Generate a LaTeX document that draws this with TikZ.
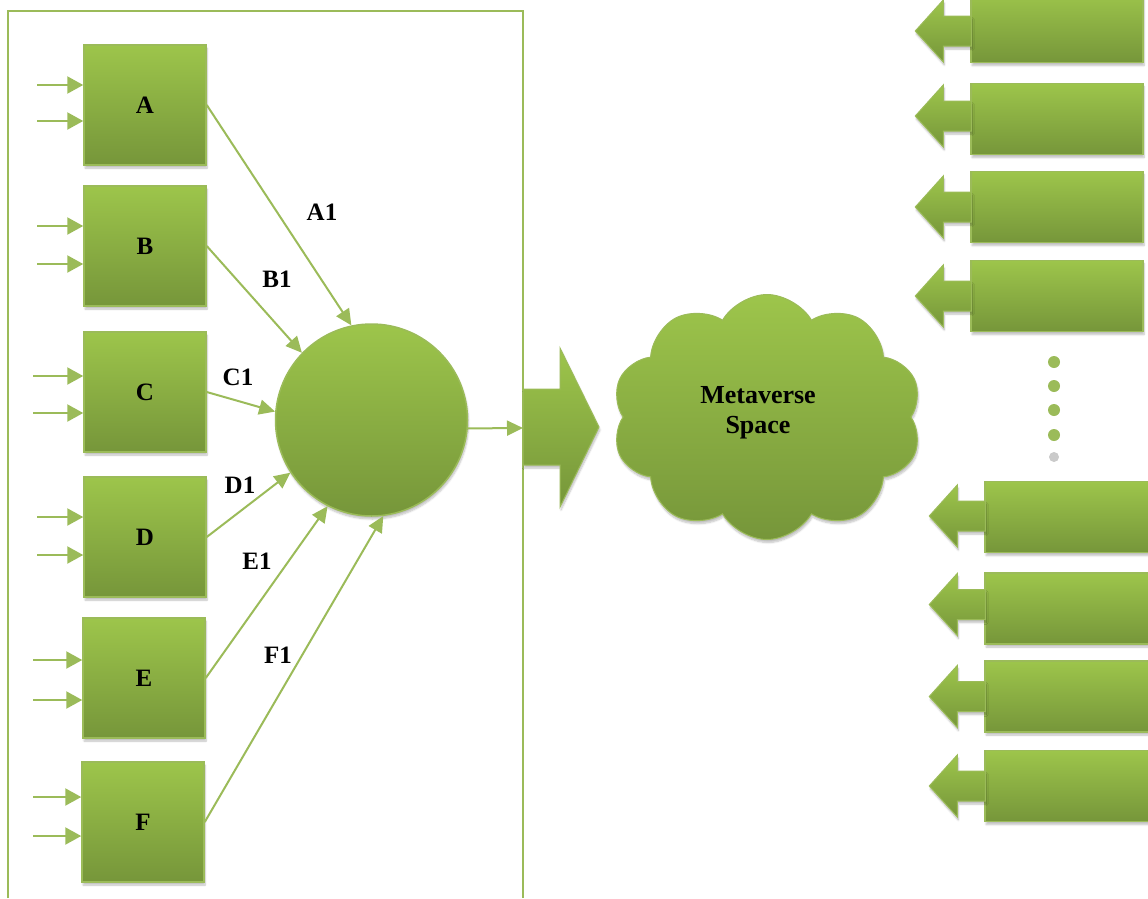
\documentclass[tikz,border=0pt]{standalone}
\usepackage{fontspec}
\setmainfont{Liberation Serif}
\usetikzlibrary{arrows.meta,shapes.symbols,shadows.blur,calc}
\definecolor{gtop}{HTML}{9DC54B}
\definecolor{gbot}{HTML}{76963A}
\definecolor{gline}{HTML}{9BBB59}
\begin{document}
\begin{tikzpicture}[x=1pt,y=-1pt,
 gfill/.style={top color=gtop,bottom color=gbot,draw=gline,line width=1.5pt},
 shad/.style={blur shadow={shadow xshift=1pt,shadow yshift=-3pt,shadow opacity=25,shadow blur steps=6}},
 lbox/.style={gfill,shad,minimum width=122pt,minimum height=120pt,inner sep=0pt,font=\fontsize{25}{29}\selectfont\bfseries},
 rbox/.style={gfill,shad,minimum width=172pt,minimum height=71pt,inner sep=0pt},
 conn/.style={draw=gline,line width=2pt,-{Triangle[length=16pt,width=15pt]}},
 inarr/.style={draw=gline,line width=2.2pt,-{Triangle[length=16pt,width=17pt]}},
 lbl/.style={font=\fontsize{25}{29}\selectfont\bfseries,inner sep=0pt},
 larr/.style={gfill,shad,line width=1pt},
]
\useasboundingbox (0,0) rectangle (1148,898);

% frame
\draw[gline,line width=2pt] (8,898) -- (8,11) -- (523,11) -- (523,898);

% left boxes
\node[lbox] (A) at (145,105) {A};
\node[lbox] (B) at (145,246) {B};
\node[lbox] (C) at (145,392) {C};
\node[lbox] (D) at (145,537) {D};
\node[lbox] (E) at (144,678) {E};
\node[lbox] (F) at (143,822) {F};

% inputs
\foreach \n/\x/\ya/\yb in {A/37/85/121, B/37/226/264, C/33/376/413, D/37/517/555, E/33/660/700, F/33/797/836}{
  \coordinate (\n i1) at (\x,\ya);
  \coordinate (\n i2) at (\x,\yb);
  \draw[inarr] (\n i1) -- (\n i1 -| \n.west);
  \draw[inarr] (\n i2) -- (\n i2 -| \n.west);
}

% circle
\node[circle,gfill,shad,minimum size=192pt,inner sep=0pt] (circ) at (371.5,420) {};

\draw[conn] (A.east) -- (circ.102.5);
\draw[conn] (B.east) -- (circ.136.9);
\draw[conn] (C.east) -- (circ.175.8);
\draw[conn] (D.east) -- (circ.213);
\draw[conn] (E.east) -- (circ.243);
\draw[conn] (F.east) -- (circ.277);

\node[lbl] (lA) at (322,212) {A1};
\node[lbl] (lB) at (277,279) {B1};
\node[lbl] (lC) at (238,377) {C1};
\node[lbl] (lD) at (240,485) {D1};
\node[lbl] (lE) at (257,561) {E1};
\node[lbl] (lF) at (278,655) {F1};

% big arrow
\path[gfill,shad,line width=1pt] (523,389) -- (560,389) -- (560,348) -- (599,427) -- (560,507) -- (560,465) -- (523,465) -- cycle;
\coordinate (bain) at (523,428);
\draw[conn] (circ.-5) -- (bain);

% cloud
\node[cloud,cloud puffs=10,cloud puff arc=120,cloud ignores aspect,minimum width=310pt,minimum height=245pt,gfill,shad,line width=1pt] (cloud) at (767,417) {};
\node[align=center,inner sep=0pt,font=\fontsize{26}{30}\selectfont\bfseries] (ms) at (758,413) {Metaverse\\Space};

% right boxes
\node[rbox] (r1) at (1057,27) {};
\node[rbox] (r2) at (1057,119) {};
\node[rbox] (r3) at (1057,207) {};
\node[rbox] (r4) at (1057,296) {};
\node[rbox] (r5) at (1071,517) {};
\node[rbox] (r6) at (1071,608.5) {};
\node[rbox] (r7) at (1071,696.5) {};
\node[rbox] (r8) at (1071,786) {};

\foreach \n/\dy in {r1/4, r2/-3, r3/0, r4/0, r5/-1, r6/-4, r7/0, r8/0}{
  \path[larr,shift={($(\n.west)+(0,\dy)$)}] (1,-15) -- (-27,-15) -- (-27,-31) -- (-55,0) -- (-27,31) -- (-27,15) -- (1,15) -- cycle;
}

% dots
\foreach \y in {362,386,410,435}{
  \fill[gline] (1054,\y) circle (6);
}
\fill[gray!70,opacity=0.6] (1054,457) circle (5);
\end{tikzpicture}
\end{document}
